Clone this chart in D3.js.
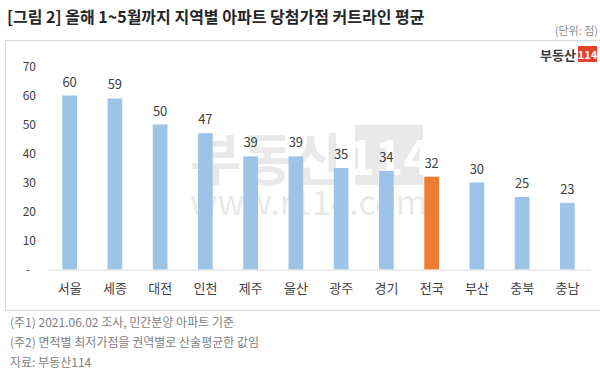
<!DOCTYPE html>
<html><head><meta charset="utf-8">
<script src="https://cdn.jsdelivr.net/npm/d3@7"></script>
<style>body{margin:0;background:#fff}svg{display:block}</style>
</head><body>
<script>
const categories = ["서울","세종","대전","인천","제주","울산","광주","경기","전국","부산","충북","충남"];
const values = [60,59,50,47,39,39,35,34,32,30,25,23];
const highlight = ["전국"];
const yTicks = [0,10,20,30,40,50,60,70];
const title = "[그림 2] 올해 1~5월까지 지역별 아파트 당첨가점 커트라인 평균";
const unit = "(단위: 점)";
const notes = ["(주1) 2021.06.02 조사, 민간분양 아파트 기준","(주2) 면적별 최저가점을 권역별로 산술평균한 값임","자료: 부동산114"];

const W=600,H=379;
const font="'Noto Sans CJK KR','Noto Sans',sans-serif";
const svg=d3.select("body").append("svg").attr("width",W).attr("height",H).style("font-family",font);

svg.append("text").attr("x",7).attr("y",23).attr("font-size",16).attr("font-weight","bold").attr("fill","#262626").text(title);
svg.append("text").attr("x",598).attr("y",35).attr("text-anchor","end").attr("font-size",11).attr("fill","#8c8c8c").text(unit);

svg.append("rect").attr("x",5.5).attr("y",40.5).attr("width",600).attr("height",270).attr("fill","none").attr("stroke","#d9d9d9");

// logo
svg.append("text").attr("x",576).attr("y",60).attr("text-anchor","end").attr("font-size",13).attr("font-weight","bold").attr("fill","#3a3a3a").text("부동산");
svg.append("rect").attr("x",578).attr("y",46).attr("width",19).attr("height",16).attr("fill","#e8412c");
svg.append("text").attr("x",587.5).attr("y",59).attr("text-anchor","middle").attr("font-size",11).attr("font-weight","bold").attr("fill","#fff").text("114");

// watermark
const wm=svg.append("g").attr("opacity",0.12);
wm.append("text").attr("x",190).attr("y",180).attr("font-size",56).attr("font-weight","bold").attr("fill","#555").text("부동산");
wm.append("rect").attr("x",355).attr("y",125).attr("width",68).attr("height",60).attr("fill","#555");
wm.append("text").attr("x",389).attr("y",175).attr("text-anchor","middle").attr("font-size",48).attr("font-weight","bold").attr("fill","#fff").text("114");
wm.append("text").attr("x",190).attr("y",215).attr("font-size",34).attr("fill","#555").text("www.r114.com");

const x=d3.scaleBand().domain(categories).range([47,590]).paddingInner(0.675).paddingOuter(0.3375);
const y=d3.scaleLinear().domain([0,70]).range([269.5,66.5]);

const yAxis=svg.append("g").attr("transform","translate(36,0)")
  .call(d3.axisLeft(y).tickValues(yTicks).tickSize(0).tickPadding(0).tickFormat(d=>d===0?"-":d));
yAxis.select(".domain").remove();
yAxis.selectAll("text").attr("font-size",12).attr("fill","#404040").attr("font-family",font).attr("dx",d=>d===0?-6:0);

const data=categories.map((c,i)=>({c,v:values[i]}));
svg.selectAll("rect.bar").data(data).join("rect").attr("class","bar")
  .attr("x",d=>x(d.c)).attr("width",x.bandwidth())
  .attr("y",d=>y(d.v)).attr("height",d=>y(0)-y(d.v))
  .attr("fill",d=>highlight.includes(d.c)?"#ed7d31":"#9dc3e6");

svg.selectAll("text.val").data(data).join("text").attr("class","val")
  .attr("x",d=>x(d.c)+x.bandwidth()/2).attr("y",d=>y(d.v)-9)
  .attr("text-anchor","middle").attr("font-size",13).attr("fill","#404040").text(d=>d.v);

const xAxis=svg.append("g").attr("transform",`translate(0,${y(0)})`)
  .call(d3.axisBottom(x).tickSize(0).tickPadding(14));
xAxis.select(".domain").attr("stroke","#d9d9d9");
xAxis.selectAll("text").attr("font-size",13).attr("fill","#404040").attr("font-family",font);

svg.selectAll("text.note").data(notes).join("text").attr("class","note")
  .attr("x",10).attr("y",(d,i)=>327+i*20).attr("font-size",12).attr("fill","#7f7f7f").text(d=>d);
</script>
</body></html>
